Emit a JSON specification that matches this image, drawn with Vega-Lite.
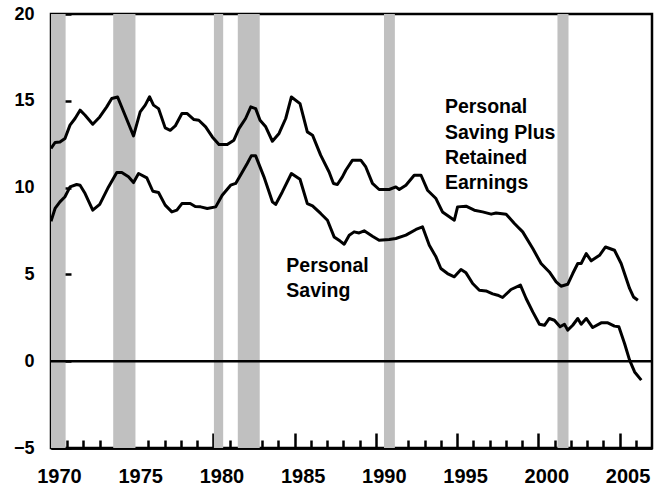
{
  "$schema": "https://vega.github.io/schema/vega-lite/v6.json",
  "width": 601,
  "height": 434,
  "autosize": "none",
  "padding": {"left": 51, "top": 14, "right": 2, "bottom": 37},
  "background": "white",
  "config": {
    "view": {"stroke": "black", "strokeWidth": 2.5},
    "axis": {
      "labelFont": "Liberation Sans",
      "labelFontWeight": "bold",
      "labelColor": "black",
      "domainColor": "black",
      "domainWidth": 2.5,
      "tickColor": "black",
      "tickWidth": 2.5,
      "grid": false,
      "title": null
    }
  },
  "resolve": {"axis": {"x": "independent"}},
  "datasets": {
    "recessions": [
      {"start": 1969.9, "end": 1970.9},
      {"start": 1973.83, "end": 1975.2},
      {"start": 1980.03, "end": 1980.6},
      {"start": 1981.5, "end": 1982.85},
      {"start": 1990.5, "end": 1991.17},
      {"start": 2001.18, "end": 2001.86}
    ],
    "series": [
      {"s": "upper", "year": 1970.0, "value": 12.25},
      {"s": "upper", "year": 1970.25, "value": 12.6},
      {"s": "upper", "year": 1970.55, "value": 12.63},
      {"s": "upper", "year": 1970.86, "value": 12.83},
      {"s": "upper", "year": 1971.17, "value": 13.6},
      {"s": "upper", "year": 1971.48, "value": 13.98},
      {"s": "upper", "year": 1971.79, "value": 14.46},
      {"s": "upper", "year": 1972.1, "value": 14.17},
      {"s": "upper", "year": 1972.57, "value": 13.65},
      {"s": "upper", "year": 1973.0, "value": 14.07},
      {"s": "upper", "year": 1973.43, "value": 14.65},
      {"s": "upper", "year": 1973.74, "value": 15.13},
      {"s": "upper", "year": 1974.1, "value": 15.22},
      {"s": "upper", "year": 1974.56, "value": 14.17},
      {"s": "upper", "year": 1975.08, "value": 12.98},
      {"s": "upper", "year": 1975.49, "value": 14.36},
      {"s": "upper", "year": 1975.8, "value": 14.75},
      {"s": "upper", "year": 1976.07, "value": 15.23},
      {"s": "upper", "year": 1976.31, "value": 14.75},
      {"s": "upper", "year": 1976.62, "value": 14.55},
      {"s": "upper", "year": 1977.03, "value": 13.44},
      {"s": "upper", "year": 1977.34, "value": 13.3},
      {"s": "upper", "year": 1977.65, "value": 13.55},
      {"s": "upper", "year": 1978.06, "value": 14.27},
      {"s": "upper", "year": 1978.37, "value": 14.27},
      {"s": "upper", "year": 1978.8, "value": 13.92},
      {"s": "upper", "year": 1979.1, "value": 13.88},
      {"s": "upper", "year": 1979.52, "value": 13.5},
      {"s": "upper", "year": 1979.93, "value": 12.92},
      {"s": "upper", "year": 1980.34, "value": 12.48},
      {"s": "upper", "year": 1980.85, "value": 12.48},
      {"s": "upper", "year": 1981.26, "value": 12.73},
      {"s": "upper", "year": 1981.57, "value": 13.4},
      {"s": "upper", "year": 1981.98, "value": 13.98},
      {"s": "upper", "year": 1982.3, "value": 14.65},
      {"s": "upper", "year": 1982.6, "value": 14.55},
      {"s": "upper", "year": 1982.87, "value": 13.88},
      {"s": "upper", "year": 1983.22, "value": 13.5},
      {"s": "upper", "year": 1983.63, "value": 12.67},
      {"s": "upper", "year": 1984.04, "value": 13.12},
      {"s": "upper", "year": 1984.45, "value": 13.98},
      {"s": "upper", "year": 1984.8, "value": 15.22},
      {"s": "upper", "year": 1985.33, "value": 14.84},
      {"s": "upper", "year": 1985.78, "value": 13.21},
      {"s": "upper", "year": 1986.1, "value": 13.02},
      {"s": "upper", "year": 1986.6, "value": 11.87},
      {"s": "upper", "year": 1987.12, "value": 10.9},
      {"s": "upper", "year": 1987.39, "value": 10.24},
      {"s": "upper", "year": 1987.63, "value": 10.18},
      {"s": "upper", "year": 1987.94, "value": 10.62},
      {"s": "upper", "year": 1988.15, "value": 11.0},
      {"s": "upper", "year": 1988.56, "value": 11.58},
      {"s": "upper", "year": 1989.07, "value": 11.58},
      {"s": "upper", "year": 1989.38, "value": 11.19},
      {"s": "upper", "year": 1989.79, "value": 10.24},
      {"s": "upper", "year": 1990.2, "value": 9.89},
      {"s": "upper", "year": 1990.82, "value": 9.89},
      {"s": "upper", "year": 1991.23, "value": 10.04},
      {"s": "upper", "year": 1991.44, "value": 9.89},
      {"s": "upper", "year": 1991.85, "value": 10.14},
      {"s": "upper", "year": 1992.36, "value": 10.71},
      {"s": "upper", "year": 1992.78, "value": 10.71},
      {"s": "upper", "year": 1993.18, "value": 9.85},
      {"s": "upper", "year": 1993.7, "value": 9.37},
      {"s": "upper", "year": 1994.1, "value": 8.6},
      {"s": "upper", "year": 1994.83, "value": 8.12},
      {"s": "upper", "year": 1995.03, "value": 8.89},
      {"s": "upper", "year": 1995.55, "value": 8.93},
      {"s": "upper", "year": 1996.06, "value": 8.7},
      {"s": "upper", "year": 1996.57, "value": 8.6},
      {"s": "upper", "year": 1997.1, "value": 8.47},
      {"s": "upper", "year": 1997.4, "value": 8.54},
      {"s": "upper", "year": 1998.02, "value": 8.47},
      {"s": "upper", "year": 1998.53, "value": 7.93},
      {"s": "upper", "year": 1999.04, "value": 7.45},
      {"s": "upper", "year": 1999.66, "value": 6.49},
      {"s": "upper", "year": 2000.17, "value": 5.63},
      {"s": "upper", "year": 2000.68, "value": 5.14},
      {"s": "upper", "year": 2001.1, "value": 4.57},
      {"s": "upper", "year": 2001.4, "value": 4.32},
      {"s": "upper", "year": 2001.81, "value": 4.43},
      {"s": "upper", "year": 2002.12, "value": 5.05},
      {"s": "upper", "year": 2002.43, "value": 5.63},
      {"s": "upper", "year": 2002.64, "value": 5.63},
      {"s": "upper", "year": 2002.95, "value": 6.2},
      {"s": "upper", "year": 2003.26, "value": 5.78},
      {"s": "upper", "year": 2003.77, "value": 6.1},
      {"s": "upper", "year": 2004.14, "value": 6.58},
      {"s": "upper", "year": 2004.69, "value": 6.39},
      {"s": "upper", "year": 2005.1, "value": 5.63},
      {"s": "upper", "year": 2005.62, "value": 4.19},
      {"s": "upper", "year": 2005.86, "value": 3.7},
      {"s": "upper", "year": 2006.13, "value": 3.51},
      {"s": "lower", "year": 1970.0, "value": 8.06},
      {"s": "lower", "year": 1970.25, "value": 8.8},
      {"s": "lower", "year": 1970.55, "value": 9.18},
      {"s": "lower", "year": 1970.86, "value": 9.47},
      {"s": "lower", "year": 1971.17, "value": 10.04},
      {"s": "lower", "year": 1971.58, "value": 10.18},
      {"s": "lower", "year": 1971.79, "value": 10.14},
      {"s": "lower", "year": 1972.1, "value": 9.66},
      {"s": "lower", "year": 1972.57, "value": 8.7},
      {"s": "lower", "year": 1973.0, "value": 9.03},
      {"s": "lower", "year": 1973.54, "value": 10.04},
      {"s": "lower", "year": 1974.05, "value": 10.87},
      {"s": "lower", "year": 1974.36, "value": 10.87},
      {"s": "lower", "year": 1974.77, "value": 10.62},
      {"s": "lower", "year": 1975.08, "value": 10.29},
      {"s": "lower", "year": 1975.39, "value": 10.81},
      {"s": "lower", "year": 1975.9, "value": 10.56},
      {"s": "lower", "year": 1976.27, "value": 9.79},
      {"s": "lower", "year": 1976.62, "value": 9.72},
      {"s": "lower", "year": 1977.03, "value": 8.99},
      {"s": "lower", "year": 1977.44, "value": 8.6},
      {"s": "lower", "year": 1977.75, "value": 8.7},
      {"s": "lower", "year": 1978.06, "value": 9.08},
      {"s": "lower", "year": 1978.57, "value": 9.08},
      {"s": "lower", "year": 1978.88, "value": 8.91},
      {"s": "lower", "year": 1979.21, "value": 8.89},
      {"s": "lower", "year": 1979.62, "value": 8.8},
      {"s": "lower", "year": 1980.14, "value": 8.89},
      {"s": "lower", "year": 1980.54, "value": 9.56},
      {"s": "lower", "year": 1981.06, "value": 10.14},
      {"s": "lower", "year": 1981.37, "value": 10.24},
      {"s": "lower", "year": 1981.78, "value": 10.9},
      {"s": "lower", "year": 1982.08, "value": 11.39},
      {"s": "lower", "year": 1982.33, "value": 11.83},
      {"s": "lower", "year": 1982.6, "value": 11.83},
      {"s": "lower", "year": 1983.11, "value": 10.62},
      {"s": "lower", "year": 1983.63, "value": 9.18},
      {"s": "lower", "year": 1983.83, "value": 9.03},
      {"s": "lower", "year": 1984.24, "value": 9.75},
      {"s": "lower", "year": 1984.8, "value": 10.81},
      {"s": "lower", "year": 1985.33, "value": 10.48},
      {"s": "lower", "year": 1985.78, "value": 9.08},
      {"s": "lower", "year": 1986.1, "value": 8.95},
      {"s": "lower", "year": 1986.6, "value": 8.51},
      {"s": "lower", "year": 1987.02, "value": 8.12},
      {"s": "lower", "year": 1987.43, "value": 7.16},
      {"s": "lower", "year": 1987.8, "value": 6.92},
      {"s": "lower", "year": 1988.05, "value": 6.74},
      {"s": "lower", "year": 1988.36, "value": 7.26},
      {"s": "lower", "year": 1988.66, "value": 7.45},
      {"s": "lower", "year": 1988.97, "value": 7.39},
      {"s": "lower", "year": 1989.28, "value": 7.51},
      {"s": "lower", "year": 1989.79, "value": 7.2},
      {"s": "lower", "year": 1990.2, "value": 6.97},
      {"s": "lower", "year": 1990.82, "value": 7.01},
      {"s": "lower", "year": 1991.23, "value": 7.07},
      {"s": "lower", "year": 1991.85, "value": 7.26},
      {"s": "lower", "year": 1992.47, "value": 7.59},
      {"s": "lower", "year": 1992.87, "value": 7.74},
      {"s": "lower", "year": 1993.29, "value": 6.68},
      {"s": "lower", "year": 1993.7, "value": 6.01},
      {"s": "lower", "year": 1994.0, "value": 5.34},
      {"s": "lower", "year": 1994.41, "value": 5.05},
      {"s": "lower", "year": 1994.83, "value": 4.86},
      {"s": "lower", "year": 1995.24, "value": 5.28},
      {"s": "lower", "year": 1995.55, "value": 5.09},
      {"s": "lower", "year": 1995.96, "value": 4.48},
      {"s": "lower", "year": 1996.37, "value": 4.09},
      {"s": "lower", "year": 1996.78, "value": 4.05},
      {"s": "lower", "year": 1997.19, "value": 3.88},
      {"s": "lower", "year": 1997.5, "value": 3.8},
      {"s": "lower", "year": 1997.8, "value": 3.67},
      {"s": "lower", "year": 1998.32, "value": 4.13},
      {"s": "lower", "year": 1998.9, "value": 4.38},
      {"s": "lower", "year": 1999.25, "value": 3.61},
      {"s": "lower", "year": 1999.66, "value": 2.84},
      {"s": "lower", "year": 2000.07, "value": 2.13},
      {"s": "lower", "year": 2000.38, "value": 2.07},
      {"s": "lower", "year": 2000.68, "value": 2.46},
      {"s": "lower", "year": 2000.99, "value": 2.36},
      {"s": "lower", "year": 2001.34, "value": 1.98},
      {"s": "lower", "year": 2001.61, "value": 2.13},
      {"s": "lower", "year": 2001.81, "value": 1.79},
      {"s": "lower", "year": 2002.12, "value": 2.07},
      {"s": "lower", "year": 2002.43, "value": 2.46},
      {"s": "lower", "year": 2002.64, "value": 2.13},
      {"s": "lower", "year": 2002.95, "value": 2.46},
      {"s": "lower", "year": 2003.35, "value": 1.94},
      {"s": "lower", "year": 2003.87, "value": 2.21},
      {"s": "lower", "year": 2004.28, "value": 2.21},
      {"s": "lower", "year": 2004.69, "value": 2.02},
      {"s": "lower", "year": 2004.96, "value": 1.98},
      {"s": "lower", "year": 2005.31, "value": 1.02},
      {"s": "lower", "year": 2005.62, "value": 0.06},
      {"s": "lower", "year": 2005.93, "value": -0.62},
      {"s": "lower", "year": 2006.34, "value": -1.09}
    ],
    "labels": [
      {"year": 1994.25, "value": 14.27, "text": ["Personal", "Saving Plus", "Retained", "Earnings"]},
      {"year": 1984.49, "value": 5.14, "text": ["Personal", "Saving"]}
    ]
  },
  "layer": [
    {
      "data": {"name": "recessions"},
      "mark": {"type": "rect", "color": "#c0c0c0", "clip": true},
      "encoding": {
        "x": {
          "field": "start", "type": "quantitative",
          "scale": {"domain": [1970, 2007], "nice": false, "zero": false},
          "axis": {
            "orient": "bottom",
            "values": [1971,1972,1973,1974,1976,1977,1978,1979,1981,1982,1983,1984,1986,1987,1988,1989,1991,1992,1993,1994,1996,1997,1998,1999,2001,2002,2003,2004,2006],
            "labels": false,
            "tickSize": -8
          }
        },
        "x2": {"field": "end"}
      }
    },
    {
      "data": {"name": "series"},
      "mark": {"type": "line", "color": "black", "strokeWidth": 3, "strokeJoin": "round", "clip": true},
      "encoding": {
        "x": {
          "field": "year", "type": "quantitative",
          "axis": {
            "orient": "bottom",
            "values": [1970, 1975, 1980, 1985, 1990, 1995, 2000, 2005],
            "format": "d",
            "tickSize": -15,
            "labelFontSize": 20,
            "labelPadding": 33,
            "labelOffset": 8,
            "labelFlush": false,
            "labelOverlap": false,
            "labelBaseline": "top"
          }
        },
        "y": {
          "field": "value", "type": "quantitative",
          "scale": {"domain": [-5, 20], "nice": false, "zero": false},
          "axis": {
            "values": [-5, 0, 5, 10, 15, 20],
            "tickSize": -20,
            "labelFontSize": 18,
            "labelPadding": 37,
            "labelFlush": false,
            "labelOverlap": false
          }
        },
        "detail": {"field": "s"}
      }
    },
    {
      "data": {"values": [{"v": 0}]},
      "mark": {"type": "rule", "color": "black", "strokeWidth": 2.5},
      "encoding": {"y": {"field": "v", "type": "quantitative"}}
    },
    {
      "data": {"name": "labels"},
      "mark": {"type": "text", "align": "left", "baseline": "alphabetic", "font": "Liberation Sans", "fontWeight": "bold", "fontSize": 19.5, "lineHeight": 25.3, "color": "black"},
      "encoding": {
        "x": {"field": "year", "type": "quantitative", "axis": null},
        "y": {"field": "value", "type": "quantitative"},
        "text": {"field": "text"}
      }
    }
  ]
}
